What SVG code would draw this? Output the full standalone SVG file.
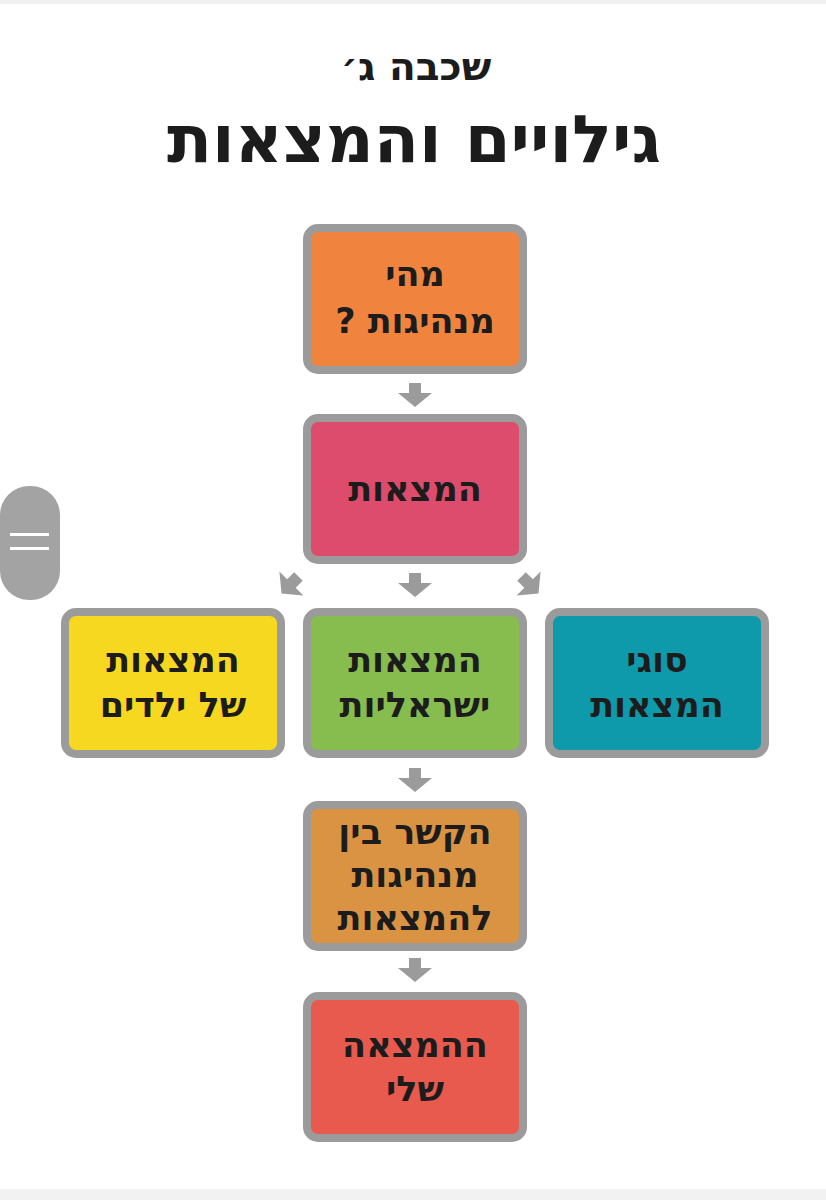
<svg xmlns="http://www.w3.org/2000/svg" xmlns:xlink="http://www.w3.org/1999/xlink" width="826" height="1200" viewBox="0 0 826 1200">
<style>
.box{stroke:#9b9b9b;stroke-width:8}
.t{font-family:"DejaVu Sans","Liberation Sans",sans-serif;font-weight:bold;font-size:35px;fill:#1c1c1c;text-anchor:middle;direction:rtl}
.h1{font-family:"DejaVu Sans","Liberation Sans",sans-serif;font-weight:bold;fill:#1c1c1c;text-anchor:middle;direction:rtl}
.arr{fill:#9b9b9b}
</style>
<defs>
<path id="ar" d="M-6,-12 H6 V-2 H17 L0,12 L-17,-2 H-6 Z"/>
</defs>
<rect width="826" height="1200" fill="#ffffff"/>
<rect x="0" y="0" width="826" height="4" fill="#f0f0f0"/>
<rect x="0" y="1189" width="826" height="11" fill="#f2f2f2"/>
<g id="title">
<text class="h1" x="416" y="80" font-size="39">שכבה ג׳</text>
<text class="h1" x="414" y="162" font-size="66">גילויים והמצאות</text>
</g>
<g id="handle">
<rect x="0" y="486" width="60" height="114" rx="29" fill="#a3a3a3"/>
<rect x="10" y="533" width="39" height="3" fill="#ffffff"/>
<rect x="10" y="547" width="39" height="3" fill="#ffffff"/>
</g>
<g id="connectors" class="arr">
<use xlink:href="#ar" transform="translate(415,395)"/>
<use xlink:href="#ar" transform="translate(290,585) rotate(45)"/>
<use xlink:href="#ar" transform="translate(415,585)"/>
<use xlink:href="#ar" transform="translate(530,585) rotate(-45)"/>
<use xlink:href="#ar" transform="translate(415,780)"/>
<use xlink:href="#ar" transform="translate(415,970)"/>
</g>
<g id="n1">
<rect class="box" x="307" y="228" width="216" height="142" rx="11" fill="#f0843f"/>
<text class="t" x="415" y="286">מהי</text>
<text class="t" x="415" y="333">מנהיגות ?</text>
</g>
<g id="n2">
<rect class="box" x="307" y="418" width="216" height="142" rx="11" fill="#dd4c6c"/>
<text class="t" x="415" y="501">המצאות</text>
</g>
<g id="n3">
<rect class="box" x="65" y="612" width="216" height="142" rx="11" fill="#f6d820"/>
<text class="t" x="173" y="672">המצאות</text>
<text class="t" x="173" y="717">של ילדים</text>
</g>
<g id="n4">
<rect class="box" x="307" y="612" width="216" height="142" rx="11" fill="#86bd4e"/>
<text class="t" x="415" y="672">המצאות</text>
<text class="t" x="415" y="717">ישראליות</text>
</g>
<g id="n5">
<rect class="box" x="549" y="612" width="216" height="142" rx="11" fill="#0e9aab"/>
<text class="t" x="657" y="672">סוגי</text>
<text class="t" x="657" y="717">המצאות</text>
</g>
<g id="n6">
<rect class="box" x="307" y="805" width="216" height="142" rx="11" fill="#da9343"/>
<text class="t" x="415" y="844">הקשר בין</text>
<text class="t" x="415" y="887">מנהיגות</text>
<text class="t" x="415" y="930">להמצאות</text>
</g>
<g id="n7">
<rect class="box" x="307" y="996" width="216" height="142" rx="11" fill="#e8594e"/>
<text class="t" x="415" y="1057">ההמצאה</text>
<text class="t" x="415" y="1101">שלי</text>
</g>
</svg>
